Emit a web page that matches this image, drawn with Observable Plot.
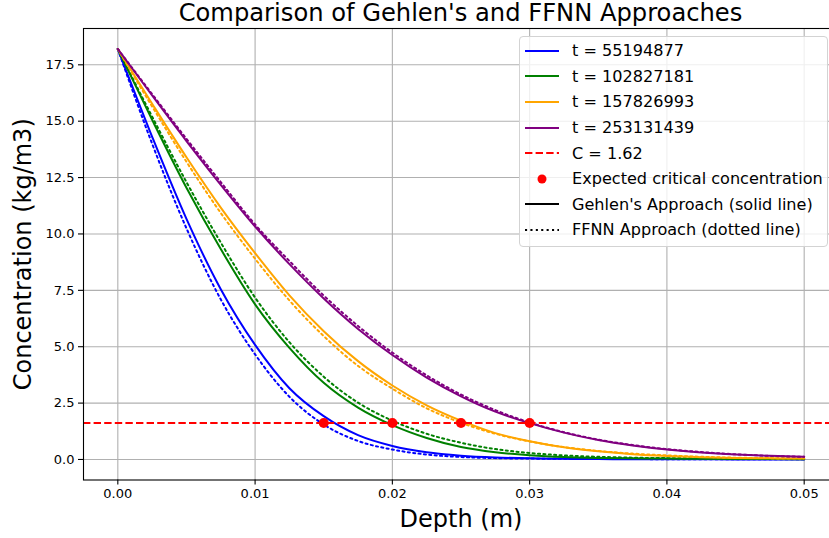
<!DOCTYPE html>
<html>
<head>
<meta charset="utf-8">
<script src="https://cdn.jsdelivr.net/npm/d3@7"></script>
<script src="https://cdn.jsdelivr.net/npm/@observablehq/plot@0.6"></script>
<style>
  html, body { margin: 0; padding: 0; background: #fff; overflow: hidden; }
  #chart { position: relative; width: 829px; height: 538px; font-family: "DejaVu Sans", sans-serif; color: #000; }
  #chart svg.main { position: absolute; left: 0; top: 0; }
  .title { position: absolute; left: 83px; width: 755px; top: 1px; text-align: center; font-size: 24.2px; line-height: 25px; white-space: nowrap; }
  .legend { position: absolute; left: 519px; top: 36px; width: 309px; height: 211px; box-sizing: border-box;
            border: 1px solid #d3d3d3; border-radius: 4px; background: rgba(255,255,255,0.8); }
  .legend .row { position: absolute; left: 0; height: 20px; display: flex; align-items: center; font-size: 16.1px; white-space: nowrap; }
  .legend .row svg { margin-left: 5px; margin-right: 13px; display: block; }
</style>
</head>
<body>
<div id="chart"></div>
<script>
// Depth positions (m) at which concentrations are tabulated
const depth = [0, 0.0025, 0.005, 0.0075, 0.01, 0.0125, 0.015, 0.0175, 0.02, 0.0225, 0.025,
               0.0275, 0.03, 0.0325, 0.035, 0.0375, 0.04, 0.0425, 0.045, 0.0475, 0.05];

// Exposure times (s) and their colours
const times = ["55194877", "102827181", "157826993", "253131439"];
const colors = ["blue", "green", "orange", "purple"];

// Gehlen's approach, chloride concentration (kg/m3) per time
const gehlenT1 = [18.2, 14.31, 10.67, 7.55, 5.08, 3.16, 1.92, 1.08, 0.60, 0.32, 0.17, 0.09, 0.05, 0.03, 0.02, 0.01, 0.01, 0.01, 0.00, 0.00, 0.00];
const gehlenT2 = [18.2, 15.06, 12.05, 9.33, 6.88, 4.95, 3.40, 2.30, 1.52, 0.95, 0.55, 0.32, 0.19, 0.11, 0.07, 0.05, 0.04, 0.03, 0.02, 0.02, 0.01];
const gehlenT3 = [18.2, 15.77, 13.40, 11.17, 9.15, 7.28, 5.69, 4.36, 3.28, 2.40, 1.72, 1.17, 0.81, 0.54, 0.36, 0.23, 0.15, 0.10, 0.07, 0.05, 0.04];
const gehlenT4 = [18.2, 16.14, 14.12, 12.18, 10.33, 8.66, 7.14, 5.79, 4.63, 3.63, 2.80, 2.12, 1.61, 1.19, 0.86, 0.62, 0.44, 0.31, 0.22, 0.16, 0.12];

// FFNN predictions (kg/m3) per time
const ffnnT1 = [18.2, 14.0, 10.25, 7.1, 4.66, 2.78, 1.55, 0.82, 0.44, 0.22, 0.11, 0.06, 0.04, 0.03, 0.02, 0.02, 0.01, 0.01, 0.01, 0.01, 0.01];
const ffnnT2 = [18.2, 15.2, 12.3, 9.62, 7.18, 5.20, 3.67, 2.52, 1.72, 1.14, 0.74, 0.46, 0.29, 0.18, 0.12, 0.08, 0.06, 0.05, 0.04, 0.03, 0.03];
const ffnnT3 = [18.2, 15.65, 13.2, 10.93, 8.9, 7.05, 5.47, 4.15, 3.14, 2.27, 1.63, 1.14, 0.80, 0.55, 0.38, 0.26, 0.18, 0.12, 0.08, 0.06, 0.05];
const ffnnT4 = [18.2, 16.2, 14.22, 12.3, 10.42, 8.8, 7.27, 5.92, 4.74, 3.73, 2.88, 2.19, 1.64, 1.21, 0.88, 0.64, 0.46, 0.33, 0.23, 0.16, 0.12];

// Critical concentration and the depths where it is expected
const criticalC = 1.62;
const criticalDepth = [0.015, 0.02, 0.025, 0.03];

// Axis ticks
const xTicks = [0, 0.01, 0.02, 0.03, 0.04, 0.05];
const yTicks = [0, 2.5, 5, 7.5, 10, 12.5, 15, 17.5];

const gehlen = [gehlenT1, gehlenT2, gehlenT3, gehlenT4];
const ffnn = [ffnnT1, ffnnT2, ffnnT3, ffnnT4];
const rows = (arr, k) => depth.map((d, i) => ({depth: d, c: arr[i], k}));

const lineMarks = [];
times.forEach((t, k) => {
  lineMarks.push(Plot.line(rows(gehlen[k], k), {x: "depth", y: "c", stroke: colors[k], strokeWidth: 2, curve: "monotone-x"}));
  lineMarks.push(Plot.line(rows(ffnn[k], k), {x: "depth", y: "c", stroke: colors[k], strokeWidth: 2, strokeDasharray: "2.1,3.3", curve: "monotone-x"}));
});

const svg = Plot.plot({
  width: 829,
  height: 538,
  marginLeft: 83,
  marginRight: -9,
  marginTop: 28,
  marginBottom: 58.5,
  style: {fontFamily: "DejaVu Sans, sans-serif", color: "#000", background: "transparent", overflow: "hidden"},
  x: {domain: [-0.0025, 0.0525]},
  y: {domain: [-0.91, 19.11]},
  marks: [
    Plot.gridX(xTicks, {stroke: "#b0b0b0", strokeOpacity: 1, strokeWidth: 1.1}),
    Plot.gridY(yTicks, {stroke: "#b0b0b0", strokeOpacity: 1, strokeWidth: 1.1}),
    Plot.axisX(xTicks, {tickFormat: d3.format(".2f"), tickSize: 5, tickPadding: 4, fontSize: 13, label: null, strokeWidth: 1.1}),
    Plot.axisY(yTicks, {tickFormat: d3.format(".1f"), tickSize: 5, tickPadding: 4, fontSize: 13, label: null, strokeWidth: 1.1}),
    ...lineMarks,
    Plot.ruleY([criticalC], {stroke: "red", strokeWidth: 2, strokeDasharray: "7.4,3.2"}),
    Plot.dot(criticalDepth, {x: d => d, y: () => criticalC, r: 5, fill: "red", stroke: "none"}),
    Plot.frame({stroke: "#000", strokeWidth: 1.1}),
    Plot.text(["Depth (m)"], {frameAnchor: "bottom", dy: 39, fontSize: 24, lineAnchor: "middle", fill: "#000"}),
    Plot.text(["Concentration (kg/m3)"], {frameAnchor: "left", dx: -60, rotate: -90, fontSize: 24, lineAnchor: "middle", textAnchor: "middle", fill: "#000"})
  ]
});
svg.classList.add("main");

const chart = document.getElementById("chart");
chart.appendChild(svg);

const title = document.createElement("div");
title.className = "title";
title.textContent = "Comparison of Gehlen's and FFNN Approaches";
chart.appendChild(title);

// Legend: one entry per time, then the reference line, the points and the line-style key
const legendItems = [
  ...times.map((t, k) => ({label: `t = ${t}`, color: colors[k], kind: "solid"})),
  {label: `C = ${criticalC}`, color: "red", kind: "dashed"},
  {label: "Expected critical concentration", color: "red", kind: "dot"},
  {label: "Gehlen's Approach (solid line)", color: "#000", kind: "solid"},
  {label: "FFNN Approach (dotted line)", color: "#000", kind: "dotted"}
];
const legend = document.createElement("div");
legend.className = "legend";
legendItems.forEach((item, i) => {
  const row = document.createElement("div");
  row.className = "row";
  row.style.top = (13.7 + 25.6 * i - 10) + "px";
  let sw;
  if (item.kind === "dot") {
    sw = `<circle cx="17" cy="10" r="4.5" fill="${item.color}"/>`;
  } else {
    const dash = item.kind === "dashed" ? ' stroke-dasharray="7.4,3.2"' : item.kind === "dotted" ? ' stroke-dasharray="2.1,3.3"' : "";
    sw = `<line x1="0" x2="34" y1="10" y2="10" stroke="${item.color}" stroke-width="2"${dash}/>`;
  }
  row.innerHTML = `<svg width="34" height="20">${sw}</svg><span></span>`;
  row.querySelector("span").textContent = item.label;
  legend.appendChild(row);
});
chart.appendChild(legend);
</script>
</body>
</html>
